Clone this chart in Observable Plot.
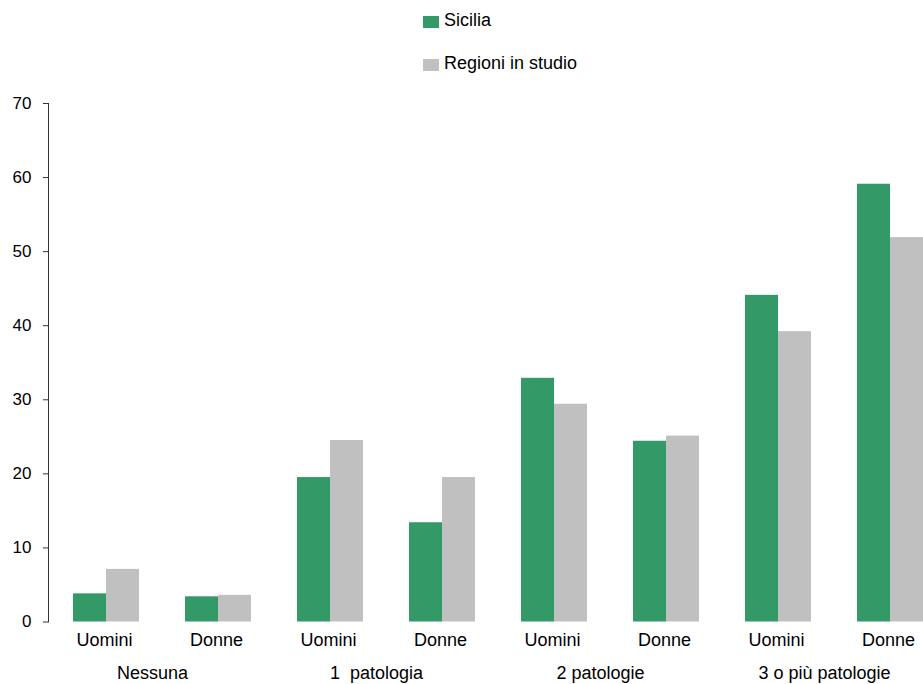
<!DOCTYPE html>
<html>
<head>
<meta charset="utf-8">
<script src="https://cdn.jsdelivr.net/npm/d3@7"></script>
<script src="https://cdn.jsdelivr.net/npm/@observablehq/plot@0.6"></script>
<style>
  html, body { margin: 0; padding: 0; background: #fff; }
  #chart { position: relative; width: 923px; height: 684px; overflow: hidden; font-family: "Liberation Sans", Arial, sans-serif; }
  #legend { position: absolute; left: 423px; top: 8px; font-size: 18px; color: #000; }
  #legend .item { display: flex; align-items: center; height: 24px; margin-bottom: 19px; }
  #legend .swatch { width: 16px; height: 12px; margin-right: 5px; margin-top: 3px; }
  #plot { position: absolute; left: 0; top: 0; }
</style>
</head>
<body>
<div id="chart">
  <div id="plot"></div>
  <div id="legend"></div>
</div>
<script>
// Disease-count groups, sex within each group, and the two compared series
const groups = ["Nessuna", "1\u00a0 patologia", "2 patologie", "3 o più patologie"];
const sexes = ["Uomini", "Donne"];
const series = ["Sicilia", "Regioni in studio"];
const colors = ["#339966", "#c0c0c0"];

// Percentages, ordered group by group: Uomini then Donne
const sicilia = [3.8, 3.4, 19.5, 13.4, 32.9, 24.4, 44.1, 59.1];
const regioni = [7.1, 3.6, 24.5, 19.5, 29.4, 25.1, 39.2, 51.9];

const yTicks = [0, 10, 20, 30, 40, 50, 60, 70];

// One facet per group/sex pair
const keys = [];
const cells = [];
groups.forEach((g, gi) => sexes.forEach((s, si) => {
  const key = g + "|" + s;
  keys.push(key);
  cells.push({key, group: g, sex: s, i: gi * 2 + si});
}));

const rows = cells.flatMap(c => [
  {key: c.key, series: series[0], value: sicilia[c.i]},
  {key: c.key, series: series[1], value: regioni[c.i]}
]);

const groupLabels = cells.filter(c => c.sex === sexes[0]);

const plot = Plot.plot({
  width: 945,
  height: 684,
  marginLeft: 47,
  marginRight: 0,
  marginTop: 103,
  marginBottom: 62.5,
  style: {
    fontFamily: "'Liberation Sans', Arial, sans-serif",
    fontSize: "18px",
    color: "#000",
    background: "transparent",
    maxWidth: "none"
  },
  fx: {domain: keys, paddingInner: 0, paddingOuter: 0, label: null},
  x: {domain: series, paddingInner: 0, paddingOuter: 0.65, align: 0.545, axis: null},
  y: {domain: [0, 70], label: null},
  color: {domain: series, range: colors},
  marks: [
    Plot.barY(rows, {fx: "key", x: "series", y: "value", fill: "series"}),
    Plot.frame({anchor: "left", facet: "super", stroke: "#333"}),
    Plot.axisY({ticks: yTicks, tickSize: 5, tickPadding: 12, fontSize: 17, stroke: "#333", label: null}),
    Plot.axisFx({anchor: "bottom", tickSize: 0, tickPadding: 11, label: null, tickFormat: k => k.split("|")[1]}),
    Plot.text(groupLabels, {
      fx: "key", text: "group", frameAnchor: "bottom-right",
      textAnchor: "middle", lineAnchor: "top", dy: 44.5, dx: -8, fontSize: 18
    })
  ]
});
document.getElementById("plot").appendChild(plot);

// Legend stacked vertically above the plot
const legend = document.getElementById("legend");
series.forEach((s, i) => {
  const item = document.createElement("div");
  item.className = "item";
  const sw = document.createElement("span");
  sw.className = "swatch";
  sw.style.background = colors[i];
  const label = document.createElement("span");
  label.textContent = s;
  item.append(sw, label);
  legend.appendChild(item);
});
</script>
</body>
</html>
